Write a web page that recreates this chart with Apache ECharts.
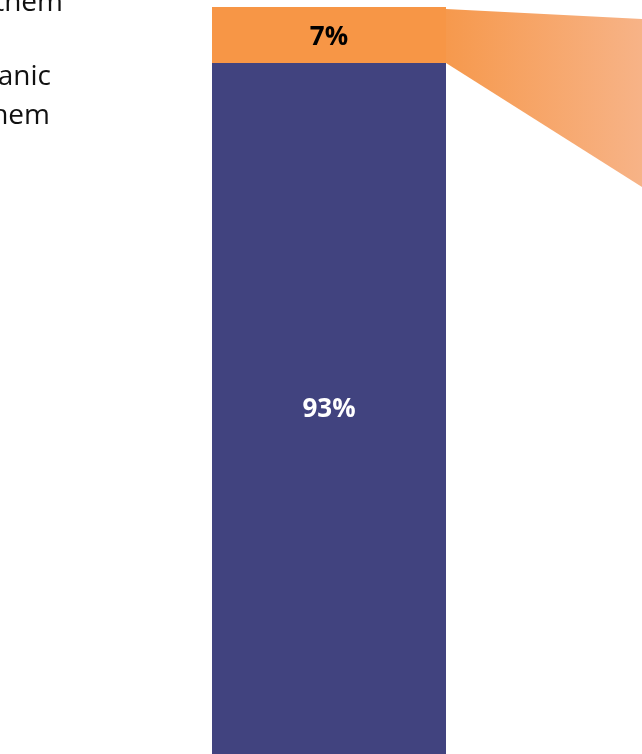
<!DOCTYPE html>
<html>
<head>
<meta charset="utf-8">
<style>
  html, body { margin: 0; padding: 0; background: #ffffff; }
  #chart { width: 642px; height: 754px; }
</style>
<script src="https://cdn.jsdelivr.net/npm/echarts@6/dist/echarts.min.js"></script>
</head>
<body>
<div id="chart"></div>
<script>
// Single stacked column split into two shares
const categories = ['Total'];
const shareMain = [93];
const shareHighlight = [7];
// Value span on the y axis where the breakout wedge meets the right edge of the canvas
const wedgeEndValues = [77.5, 98.5];
// Trailing lines of the legend text block on the left
const legendLines = ['them', 'organic', 'them'];

const FONT = '"Open Sans", "Liberation Sans", sans-serif';
const NAVY = '#41437F';
const ORANGE = '#F79646';

const chart = echarts.init(document.getElementById('chart'), null, { renderer: 'canvas' });

const option = {
  animation: false,
  // The column runs on past the lower edge of the canvas
  grid: { left: 212, top: 7, width: 234, height: 800, containLabel: false, outerBoundsMode: 'none' },
  xAxis: {
    type: 'category',
    data: categories,
    show: false
  },
  yAxis: {
    type: 'value',
    min: 0,
    max: 100,
    show: false
  },
  series: [
    {
      name: 'main',
      type: 'bar',
      stack: 'share',
      barWidth: '100%',
      barCategoryGap: 0,
      data: shareMain,
      itemStyle: { color: NAVY },
      label: {
        show: true,
        position: 'inside',
        offset: [0, -25],
        formatter: '{c}%',
        color: '#ffffff',
        fontFamily: FONT,
        fontWeight: 'bold',
        fontSize: 26
      }
    },
    {
      name: 'highlight',
      type: 'bar',
      stack: 'share',
      barWidth: '100%',
      data: shareHighlight,
      itemStyle: { color: ORANGE },
      label: {
        show: true,
        position: 'inside',
        offset: [0, 2.5],
        formatter: '{c}%',
        color: '#000000',
        fontFamily: FONT,
        fontWeight: 'bold',
        fontSize: 26
      }
    },
    {
      // Breakout wedge fanning from the highlighted segment to the right
      name: 'wedge',
      type: 'custom',
      clip: false,
      z: 1,
      data: [[0, shareMain[0], shareMain[0] + shareHighlight[0]]],
      renderItem: function (params, api) {
        const half = api.size([1, 0])[0] / 2;
        const low = api.coord([api.value(0), api.value(1)]);
        const high = api.coord([api.value(0), api.value(2)]);
        const x0 = low[0] + half;
        const x1 = api.getWidth();
        const endLow = api.coord([0, wedgeEndValues[0]])[1];
        const endHigh = api.coord([0, wedgeEndValues[1]])[1];
        return {
          type: 'polygon',
          shape: {
            points: [[x0, high[1] + 2], [x1, endHigh], [x1, endLow], [x0, low[1]]]
          },
          style: {
            fill: new echarts.graphic.LinearGradient(0, 0, 1, 0, [
              { offset: 0, color: '#F6994D' },
              { offset: 1, color: '#F7B387' }
            ])
          }
        };
      }
    }
  ],
  graphic: [
    { type: 'text', right: 579, top: -10.5, style: { text: legendLines[0], fill: '#111111', font: '28px ' + FONT, textAlign: 'right' } },
    { type: 'text', right: 591, top: 63.5, style: { text: legendLines[1], fill: '#111111', font: '28px ' + FONT, textAlign: 'right' } },
    { type: 'text', right: 592, top: 102.5, style: { text: legendLines[2], fill: '#111111', font: '28px ' + FONT, textAlign: 'right' } }
  ]
};

chart.setOption(option);
</script>
</body>
</html>
